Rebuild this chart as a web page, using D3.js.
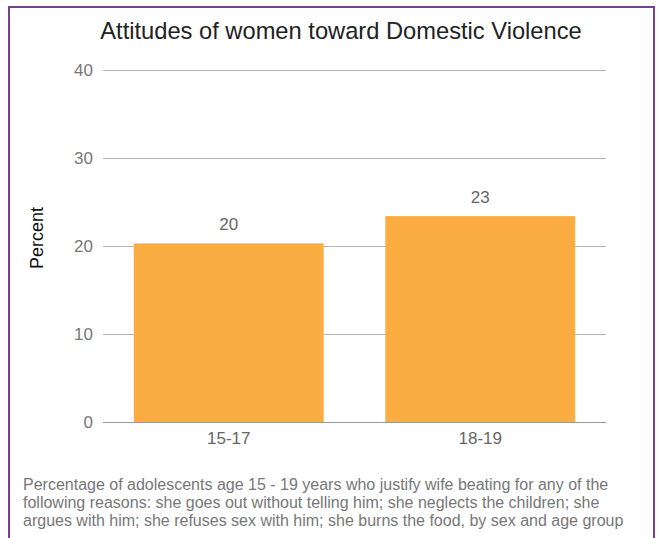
<!DOCTYPE html>
<html><head><meta charset="utf-8">
<script src="https://cdn.jsdelivr.net/npm/d3@7"></script>
<style>body{margin:0;background:#fff}svg{display:block;font-family:"Liberation Sans",Arial,sans-serif}</style>
</head><body>
<svg id="c" width="657" height="538"></svg>
<script>
const categories = ["15-17", "18-19"];
const values = [20.3, 23.4];
const valueLabels = ["20", "23"];
const yTicks = [0, 10, 20, 30, 40];
const title = "Attitudes of women toward Domestic Violence";
const yTitle = "Percent";
const caption = [
  "Percentage of adolescents age 15 - 19 years who justify wife beating for any of the",
  "following reasons: she goes out without telling him; she neglects the children; she",
  "argues with him; she refuses sex with him; she burns the food, by sex and age group"
];

const svg = d3.select("#c");
svg.append("rect").attr("x", 9).attr("y", 7).attr("width", 645).attr("height", 545)
  .attr("fill", "none").attr("stroke", "#7b3f90").attr("stroke-width", 2);

const m = {l: 103, r: 606, t: 70, b: 422};
const x = d3.scaleBand().domain(categories).range([m.l, m.r]).paddingInner(0.245).paddingOuter(0.1225);
const y = d3.scaleLinear().domain([0, 40]).range([m.b, m.t]);

svg.append("text").attr("x", 341).attr("y", 39).attr("text-anchor", "middle")
  .attr("font-size", 23.7).attr("fill", "#222").text(title);

const gy = svg.append("g").attr("transform", `translate(${m.l},0)`)
  .call(d3.axisLeft(y).tickValues(yTicks).tickSize(-(m.r - m.l)).tickPadding(10));
gy.select(".domain").remove();
gy.selectAll(".tick line").attr("stroke", "#b5b5b5").attr("stroke-width", 1);
gy.selectAll(".tick text").attr("font-size", 17).attr("fill", "#777").attr("font-family", "Liberation Sans, Arial, sans-serif");

svg.selectAll("rect.bar").data(values).join("rect").attr("class", "bar")
  .attr("x", (d, i) => x(categories[i])).attr("width", x.bandwidth())
  .attr("y", d => y(d)).attr("height", d => y(0) - y(d)).attr("fill", "#fbad42");

svg.append("line").attr("x1", m.l).attr("x2", m.r).attr("y1", y(0) + 0.5).attr("y2", y(0) + 0.5)
  .attr("stroke", "#999");

svg.selectAll("text.vl").data(values).join("text").attr("class", "vl")
  .attr("x", (d, i) => x(categories[i]) + x.bandwidth() / 2).attr("y", d => y(d) - 13)
  .attr("text-anchor", "middle").attr("font-size", 17).attr("fill", "#666")
  .text((d, i) => valueLabels[i]);

const gx = svg.append("g").attr("transform", `translate(0,${m.b})`)
  .call(d3.axisBottom(x).tickSize(0).tickPadding(10));
gx.select(".domain").remove();
gx.selectAll(".tick text").attr("font-size", 17).attr("fill", "#666").attr("font-family", "Liberation Sans, Arial, sans-serif");

svg.append("text").attr("transform", "translate(43,238) rotate(-90)").attr("text-anchor", "middle")
  .attr("font-size", 18).attr("fill", "#111").text(yTitle);

svg.selectAll("text.cap").data(caption).join("text").attr("class", "cap")
  .attr("x", 23).attr("y", (d, i) => 490 + i * 18).attr("font-size", 16).attr("fill", "#777").text(d => d);
</script>
</body></html>
